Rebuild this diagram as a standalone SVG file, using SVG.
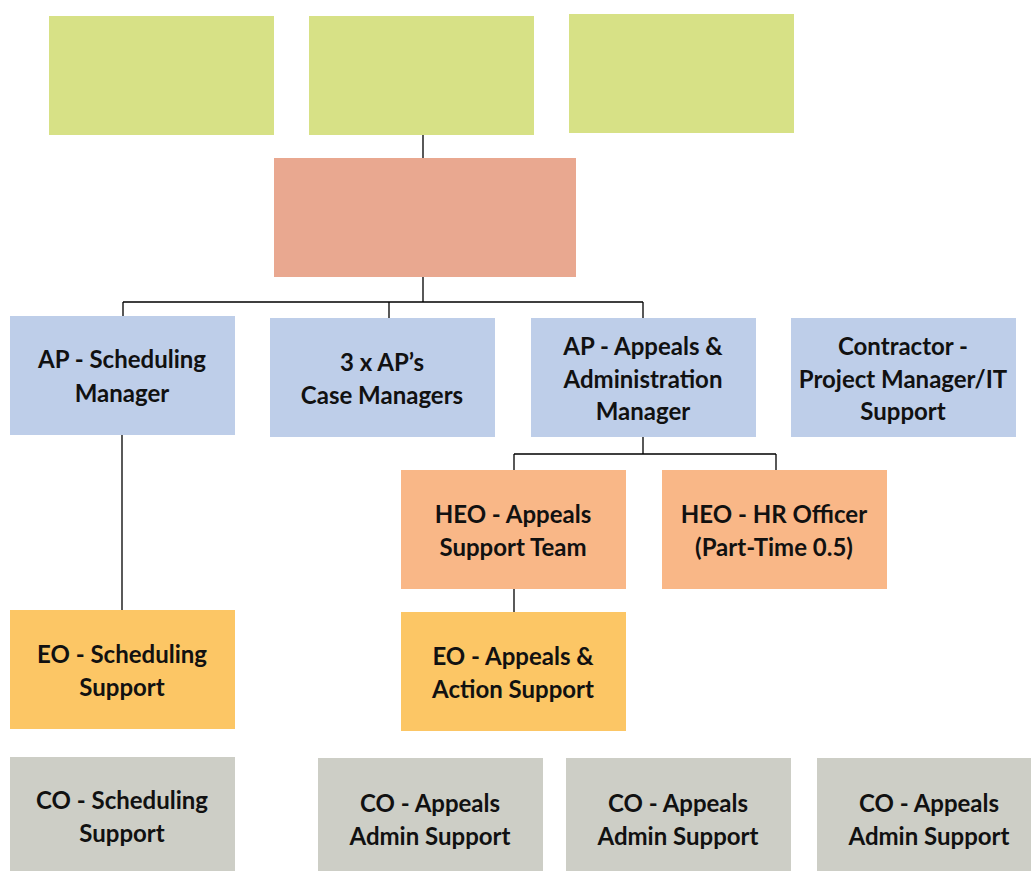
<svg xmlns="http://www.w3.org/2000/svg" width="1031" height="871" viewBox="0 0 1031 871">
<style>
.g{fill:#D7E186}.r{fill:#E9A890}.b{fill:#BECEE9}.o{fill:#F9B787}.y{fill:#FCC665}.c{fill:#CDCEC6}
text{font-family:Lato,"Open Sans","Liberation Sans",sans-serif;font-weight:bold;font-size:24px;fill:#111;text-anchor:middle}
.ln{stroke:#000;stroke-width:1.3;fill:none}
</style>
<g id="connectors">
<path class="ln" d="M423 135V158M423 277V302M123 302H643M123 302V316M389 302V318M643 302V318"/>
<path class="ln" d="M122 435V610"/>
<path class="ln" d="M643 437V454M514 454H776M514 454V470M776 454V470"/>
<path class="ln" d="M514 589V612"/>
</g>
<g id="top1"><rect class="g" x="49" y="16" width="225" height="119"/></g>
<g id="top2"><rect class="g" x="309" y="16" width="225" height="119"/></g>
<g id="top3"><rect class="g" x="569" y="14" width="225" height="119"/></g>
<g id="head"><rect class="r" x="274" y="158" width="302" height="119"/></g>
<g id="ap-sched"><rect class="b" x="10" y="316" width="225" height="119"/><text x="122" y="368">AP - Scheduling</text><text x="122" y="402">Manager</text></g>
<g id="ap-case"><rect class="b" x="270" y="318" width="225" height="119"/><text x="382" y="371">3 x AP’s</text><text x="382" y="404">Case Managers</text></g>
<g id="ap-appeals"><rect class="b" x="531" y="318" width="225" height="119"/><text x="643" y="355">AP - Appeals &amp;</text><text x="643" y="388">Administration</text><text x="643" y="420">Manager</text></g>
<g id="contractor"><rect class="b" x="791" y="318" width="225" height="119"/><text x="903" y="355">Contractor -</text><text x="903" y="388">Project Manager/IT</text><text x="903" y="420">Support</text></g>
<g id="heo-appeals"><rect class="o" x="401" y="470" width="225" height="119"/><text x="513" y="523">HEO - Appeals</text><text x="513" y="556">Support Team</text></g>
<g id="heo-hr"><rect class="o" x="662" y="470" width="225" height="119"/><text x="774" y="523">HEO - HR Officer</text><text x="774" y="556">(Part-Time 0.5)</text></g>
<g id="eo-sched"><rect class="y" x="10" y="610" width="225" height="119"/><text x="122" y="663">EO - Scheduling</text><text x="122" y="696">Support</text></g>
<g id="eo-appeals"><rect class="y" x="401" y="612" width="225" height="119"/><text x="513" y="665">EO - Appeals &amp;</text><text x="513" y="698">Action Support</text></g>
<g id="co-sched"><rect class="c" x="10" y="757" width="225" height="114"/><text x="122" y="809">CO - Scheduling</text><text x="122" y="842">Support</text></g>
<g id="co-app1"><rect class="c" x="318" y="758" width="225" height="113"/><text x="430" y="812">CO - Appeals</text><text x="430" y="845">Admin Support</text></g>
<g id="co-app2"><rect class="c" x="566" y="758" width="225" height="113"/><text x="678" y="812">CO - Appeals</text><text x="678" y="845">Admin Support</text></g>
<g id="co-app3"><rect class="c" x="817" y="758" width="225" height="113"/><text x="929" y="812">CO - Appeals</text><text x="929" y="845">Admin Support</text></g>
</svg>
